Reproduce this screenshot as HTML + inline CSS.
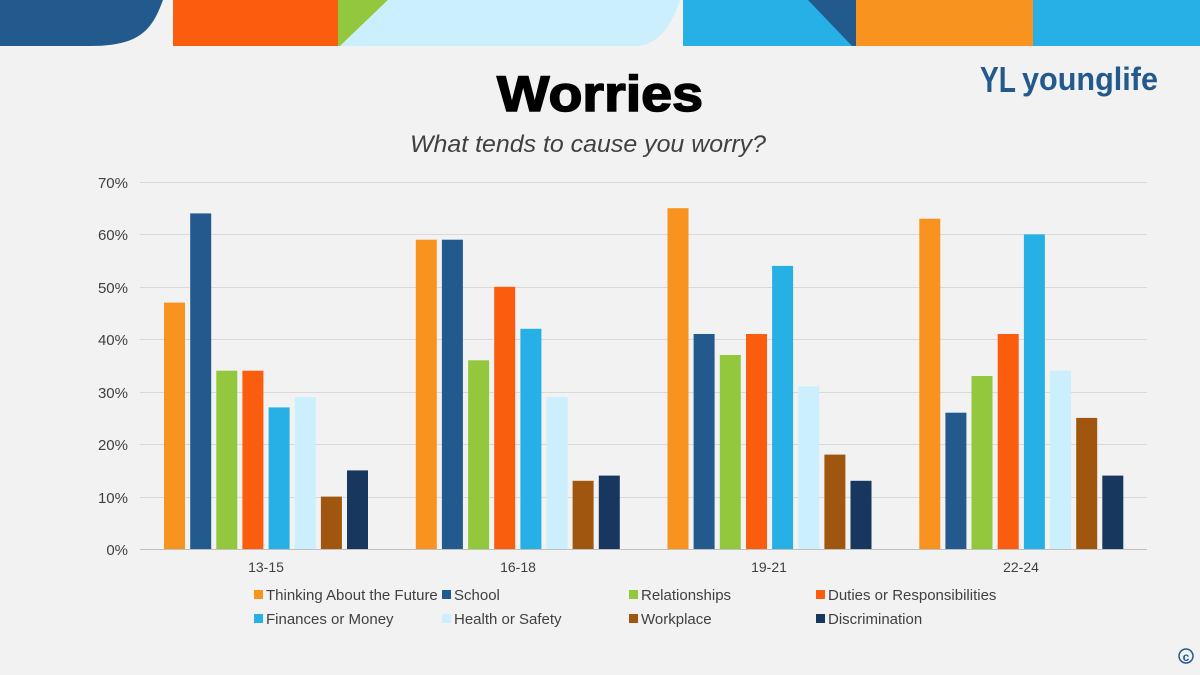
<!DOCTYPE html>
<html><head><style>
body{margin:0;width:1200px;height:675px;background:#f2f2f2;overflow:hidden;font-family:"Liberation Sans",Arial,sans-serif}
</style></head><body>
<svg width="1200" height="675" xmlns="http://www.w3.org/2000/svg" style="position:absolute;left:0;top:0">
<path d="M0 0 H163 C152 30 140 46 90 46 H0 Z" fill="#235a8e"/>
<rect x="173" y="0" width="165" height="46" fill="#f95d0d"/>
<path d="M338 0 H388 L340 46 H338 Z" fill="#93c83e"/>
<path d="M388 0 H680 C670 30 655 46 635 46 H340 Z" fill="#cbeffc"/>
<rect x="683" y="0" width="173" height="46" fill="#27b0e6"/>
<path d="M808 0 H856 V46 H852 Z" fill="#235a8e"/>
<rect x="856" y="0" width="177" height="46" fill="#f7931e"/>
<rect x="1033" y="0" width="167" height="46" fill="#27b0e6"/>
<text x="600" y="111" text-anchor="middle" font-size="50" font-weight="bold" fill="#000" stroke="#000" stroke-width="1.5" textLength="206" lengthAdjust="spacingAndGlyphs">Worries</text>
<text x="588" y="152" text-anchor="middle" font-size="24" font-style="italic" fill="#404040" textLength="356" lengthAdjust="spacingAndGlyphs">What tends to cause you worry?</text>
<text x="980" y="92" font-size="36" font-weight="bold" fill="#235a8e" textLength="36" lengthAdjust="spacingAndGlyphs">YL</text>
<text x="1022" y="90" font-size="32" font-weight="bold" fill="#235a8e" textLength="136" lengthAdjust="spacingAndGlyphs">younglife</text>
<circle cx="1186" cy="656" r="7" fill="none" stroke="#235a8e" stroke-width="1.5"/>
<text x="1186" y="661" text-anchor="middle" font-size="12" font-weight="bold" fill="#235a8e">c</text>
<g stroke="#d9d9d9" stroke-width="1">
<line x1="140" x2="1147" y1="182.5" y2="182.5"/><line x1="140" x2="1147" y1="234.5" y2="234.5"/>
<line x1="140" x2="1147" y1="287.5" y2="287.5"/><line x1="140" x2="1147" y1="339.5" y2="339.5"/>
<line x1="140" x2="1147" y1="392.5" y2="392.5"/><line x1="140" x2="1147" y1="444.5" y2="444.5"/>
<line x1="140" x2="1147" y1="497.5" y2="497.5"/><line x1="140" x2="1147" y1="549.5" y2="549.5" stroke="#bfbfbf"/>
</g>
<g font-size="15" fill="#404040" text-anchor="end">
<text x="128" y="188">70%</text><text x="128" y="240">60%</text><text x="128" y="293">50%</text>
<text x="128" y="345">40%</text><text x="128" y="398">30%</text><text x="128" y="450">20%</text>
<text x="128" y="503">10%</text><text x="128" y="555">0%</text>
</g>
<g font-size="14" fill="#404040" text-anchor="middle">
<text x="266" y="572">13-15</text><text x="518" y="572">16-18</text><text x="769" y="572">19-21</text><text x="1021" y="572">22-24</text>
</g>
<g id="bars"></g>
<g font-size="15" fill="#404040">
<rect x="254" y="590" width="9" height="9" fill="#f7931e"/><text x="266" y="600">Thinking About the Future</text>
<rect x="442" y="590" width="9" height="9" fill="#235a8e"/><text x="454" y="600">School</text>
<rect x="629" y="590" width="9" height="9" fill="#93c83e"/><text x="641" y="600">Relationships</text>
<rect x="816" y="590" width="9" height="9" fill="#f95d0d"/><text x="828" y="600">Duties or Responsibilities</text>
<rect x="254" y="614" width="9" height="9" fill="#27b0e6"/><text x="266" y="624">Finances or Money</text>
<rect x="442" y="614" width="9" height="9" fill="#cbeffc"/><text x="454" y="624">Health or Safety</text>
<rect x="629" y="614" width="9" height="9" fill="#a0560e"/><text x="641" y="624">Workplace</text>
<rect x="816" y="614" width="9" height="9" fill="#17375e"/><text x="828" y="624">Discrimination</text>
</g>
</svg>
<script>
var d=[[47,64,34,34,27,29,10,15],[59,59,36,50,42,29,13,14],[65,41,37,41,54,31,18,13],[63,26,33,41,60,34,25,14]];
var c=["#f7931e","#235a8e","#93c83e","#f95d0d","#27b0e6","#cbeffc","#a0560e","#17375e"];
var g=document.getElementById("bars"),s="";
for(var i=0;i<4;i++)for(var j=0;j<8;j++){var h=d[i][j]*5.243,x=164+i*251.75+j*26.15;
s+='<rect x="'+x.toFixed(1)+'" y="'+(549-h).toFixed(1)+'" width="21" height="'+h.toFixed(1)+'" fill="'+c[j]+'"/>';}
g.innerHTML=s;
</script>
</body></html>
